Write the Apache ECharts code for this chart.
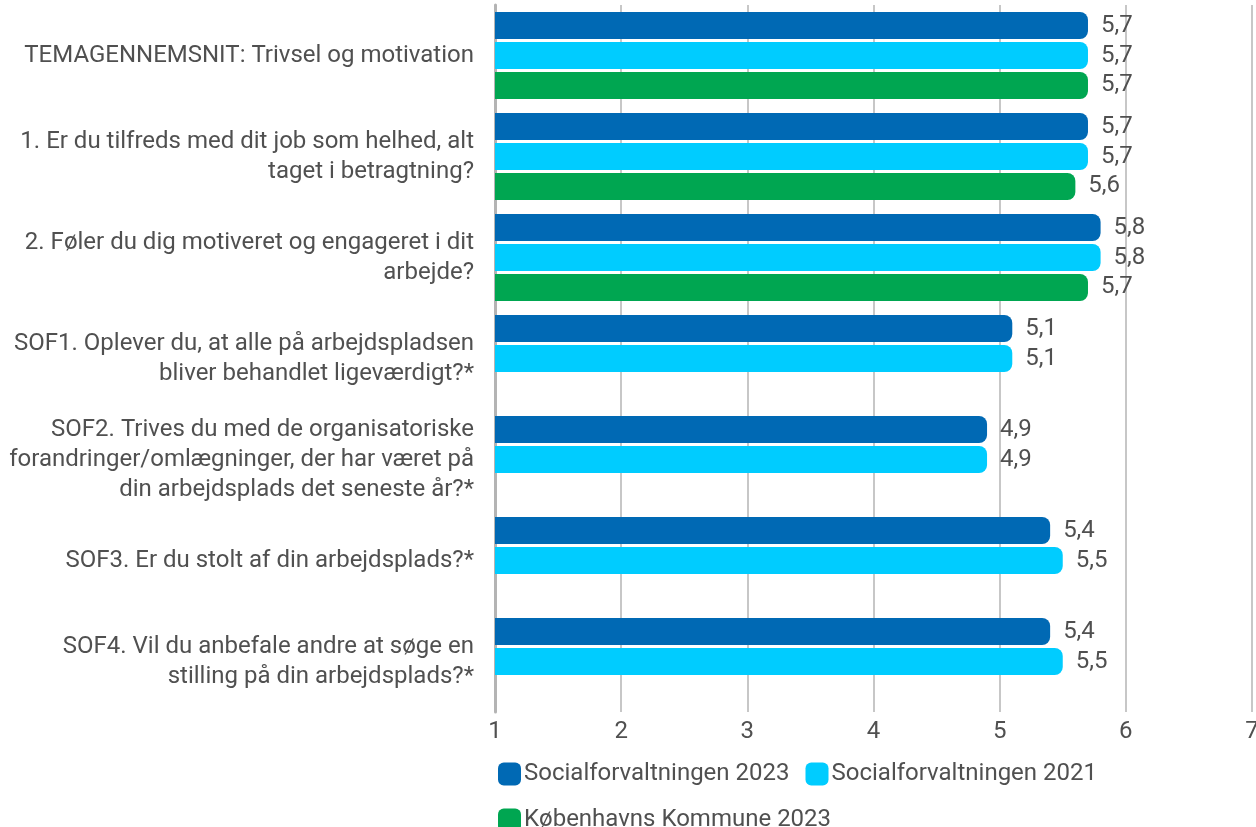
<!DOCTYPE html>
<html>
<head>
<meta charset="utf-8">
<script src="https://cdn.jsdelivr.net/npm/echarts@6/dist/echarts.min.js"></script>
<style>
  html, body { margin: 0; padding: 0; background: #fff; }
  #chart { width: 1256px; height: 827px; }
</style>
</head>
<body>
<div id="chart"></div>
<script>
// ── Data ─────────────────────────────────────────────────────────────────────

const categories = [
  'TEMAGENNEMSNIT: Trivsel og motivation',
  '1. Er du tilfreds med dit job som helhed, alt\ntaget i betragtning?',
  '2. Føler du dig motiveret og engageret i dit\narbejde?',
  'SOF1. Oplever du, at alle på arbejdspladsen\nbliver behandlet ligeværdigt?*',
  'SOF2. Trives du med de organisatoriske\nforandringer/omlægninger, der har været på\ndin arbejdsplads det seneste år?*',
  'SOF3. Er du stolt af din arbejdsplads?*',
  'SOF4. Vil du anbefale andre at søge en\nstilling på din arbejdsplads?*',
];

const seriesNames = ['Socialforvaltningen 2023', 'Socialforvaltningen 2021', 'Københavns Kommune 2023'];
const sof2023 = [5.7, 5.7, 5.8, 5.1, 4.9, 5.4, 5.4];
const sof2021 = [5.7, 5.7, 5.8, 5.1, 4.9, 5.5, 5.5];
const kk2023  = [5.7, 5.6, 5.7, null, null, null, null];

const xTicks = [1, 2, 3, 4, 5, 6, 7];

// ── Styling ──────────────────────────────────────────────────────────────────

const COLORS = ['#0069b4', '#00ccff', '#00a651'];
const TEXT = '#505050';
const FONT = 'Roboto';
const FS = 24;

const fmt = v => String(v).replace('.', ',');

const mkSeries = (name, data, color) => ({
  name,
  type: 'bar',
  data,
  barWidth: 27,
  barGap: '11%',
  itemStyle: { color, borderRadius: [0, 8, 8, 0] },
  label: {
    show: true,
    position: 'right',
    distance: 13,
    color: TEXT,
    fontFamily: FONT,
    fontSize: FS,
    formatter: p => fmt(p.value),
  },
  emphasis: { disabled: true },
});

const legendText = { color: TEXT, fontSize: FS, fontFamily: FONT, padding: [0, 0, 0, -2] };

const chart = echarts.init(document.getElementById('chart'));
chart.setOption({
  animation: false,
  textStyle: { fontFamily: FONT },
  grid: {
    left: 495, right: 4, top: 5, height: 707,
    containLabel: false, outerBoundsMode: 'none',
  },
  xAxis: {
    type: 'value',
    min: xTicks[0],
    max: xTicks[xTicks.length - 1],
    interval: 1,
    axisLine: { show: false },
    axisTick: { show: false },
    splitLine: { lineStyle: { color: '#b4b4b4', width: 1.5 } },
    axisLabel: {
      color: TEXT, fontSize: FS, fontFamily: FONT, margin: 8,
      formatter: v => (xTicks.includes(v) ? String(v) : ''),
    },
  },
  yAxis: {
    type: 'category',
    data: categories,
    inverse: true,
    axisLine: { show: true, lineStyle: { color: '#b4b4b4', width: 3 } },
    axisTick: { show: false },
    axisLabel: {
      color: TEXT, fontSize: FS, fontFamily: FONT, lineHeight: 30,
      margin: 21, align: 'right',
    },
  },
  legend: [
    {
      data: seriesNames.slice(0, 2),
      left: 493, top: 757,
      itemWidth: 23, itemHeight: 23, itemGap: 16,
      icon: 'roundRect',
      textStyle: legendText,
      selectedMode: false,
    },
    {
      data: seriesNames.slice(2),
      left: 493, top: 803,
      itemWidth: 23, itemHeight: 23,
      icon: 'roundRect',
      textStyle: legendText,
      selectedMode: false,
    },
  ],
  series: [
    mkSeries(seriesNames[0], sof2023, COLORS[0]),
    mkSeries(seriesNames[1], sof2021, COLORS[1]),
    mkSeries(seriesNames[2], kk2023, COLORS[2]),
  ],
});
</script>
</body>
</html>
